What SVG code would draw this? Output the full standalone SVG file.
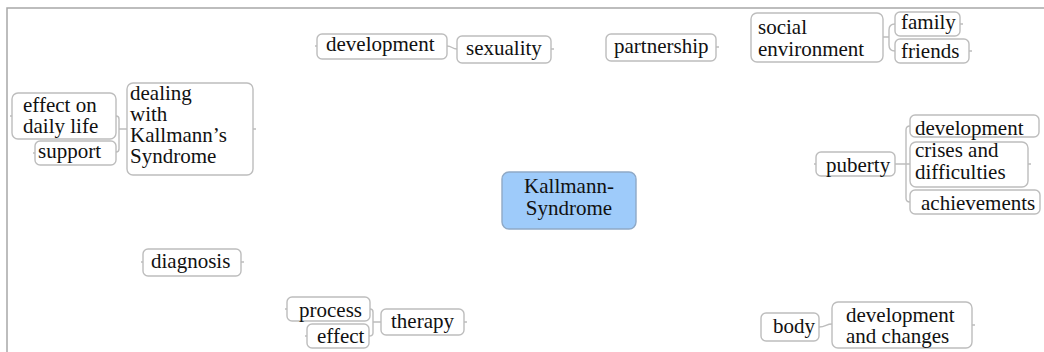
<svg xmlns="http://www.w3.org/2000/svg" width="1044" height="352" viewBox="0 0 1044 352">
<style>
.n{fill:#fff;stroke:#bdbdbd;stroke-width:1.4}
.c{fill:#9ecbfa;stroke:#8fa9c6;stroke-width:1.4}
.t{font-family:"Liberation Serif","Times New Roman",serif;font-size:21px;fill:#111}
.l{fill:none;stroke:#bdbdbd;stroke-width:1.4}
.f{fill:none;stroke:#a8a8a8;stroke-width:1.5}
</style>
<rect width="1044" height="352" fill="#fff"/>
<path class="f" d="M7,352 V8 H1044"/>
<g id="connectors">
<path class="l" d="M116,116 Q119,116 119,119 V149 Q119,152 116,152 M119,129 H127"/>
<path class="l" d="M883,37 H889 M895,24 Q889,24 889,30 V45 Q889,51 895,51"/>
<path class="l" d="M895,164 H906 M910,126 Q906,126 906,130 V198 Q906,202 910,202 M906,164 H910"/>
<path class="l" d="M370,309 Q373,309 373,312 V333 Q373,336 369,336 M373,322 H381"/>
<path class="l" d="M447,46 C452,46 452,49 457,49"/>
<path class="l" d="M819,327 C826,327 826,324 832,324"/>
<path class="l" d="M10,116 H12 M33,153 H35 M253,129 H256 M315,46 H317 M551,49 H554 M716,47 H719 M141,262 H143 M241,262 H244 M960,24 H963 M969,51 H972 M1028,164 H1031 M285,309 H287 M305,336 H307 M464,322 H467 M814,164 H816 M972,325 H975"/>
</g>
<g id="center"><rect class="c" x="502" y="172" width="134" height="57" rx="7"/><text class="t" x="569" y="193" text-anchor="middle">Kallmann-</text><text class="t" x="569" y="215" text-anchor="middle">Syndrome</text></g>
<g id="effect-daily"><rect class="n" x="12" y="93" width="104" height="46" rx="6"/><text class="t" x="23" y="112">effect on</text><text class="t" x="23" y="133">daily life</text></g>
<g id="support"><rect class="n" x="35" y="141" width="81" height="24" rx="5"/><text class="t" x="38" y="158">support</text></g>
<g id="dealing"><rect class="n" x="127" y="83" width="126" height="92" rx="6"/><text class="t" x="130" y="100">dealing</text><text class="t" x="130" y="121">with</text><text class="t" x="130" y="142">Kallmann’s</text><text class="t" x="130" y="163">Syndrome</text></g>
<g id="development-top"><rect class="n" x="317" y="34" width="130" height="25" rx="5"/><text class="t" x="326" y="51">development</text></g>
<g id="sexuality"><rect class="n" x="457" y="36" width="94" height="27" rx="5"/><text class="t" x="466" y="55">sexuality</text></g>
<g id="partnership"><rect class="n" x="606" y="34" width="110" height="27" rx="5"/><text class="t" x="614" y="53">partnership</text></g>
<g id="social"><rect class="n" x="751" y="13" width="132" height="49" rx="6"/><text class="t" x="758" y="34">social</text><text class="t" x="758" y="56">environment</text></g>
<g id="family"><rect class="n" x="895" y="12" width="65" height="24" rx="5"/><text class="t" x="901" y="29">family</text></g>
<g id="friends"><rect class="n" x="895" y="39" width="74" height="24" rx="5"/><text class="t" x="901" y="58">friends</text></g>
<g id="puberty"><rect class="n" x="816" y="152" width="79" height="24" rx="5"/><text class="t" x="826" y="172">puberty</text></g>
<g id="development-puberty"><rect class="n" x="910" y="115" width="129" height="22" rx="5"/><text class="t" x="915" y="135">development</text></g>
<g id="crises"><rect class="n" x="910" y="142" width="118" height="45" rx="6"/><text class="t" x="915" y="157">crises and</text><text class="t" x="915" y="179">difficulties</text></g>
<g id="achievements"><rect class="n" x="910" y="190" width="130" height="24" rx="5"/><text class="t" x="921" y="210">achievements</text></g>
<g id="diagnosis"><rect class="n" x="143" y="249" width="98" height="27" rx="5"/><text class="t" x="151" y="268">diagnosis</text></g>
<g id="process"><rect class="n" x="287" y="297" width="83" height="24" rx="5"/><text class="t" x="299" y="317">process</text></g>
<g id="effect"><rect class="n" x="307" y="324" width="62" height="24" rx="5"/><text class="t" x="317" y="343">effect</text></g>
<g id="therapy"><rect class="n" x="381" y="309" width="83" height="26" rx="5"/><text class="t" x="391" y="328">therapy</text></g>
<g id="body"><rect class="n" x="761" y="313" width="58" height="28" rx="5"/><text class="t" x="773" y="333">body</text></g>
<g id="dev-changes"><rect class="n" x="832" y="302" width="140" height="46" rx="6"/><text class="t" x="846" y="322">development</text><text class="t" x="846" y="343">and changes</text></g>
</svg>
